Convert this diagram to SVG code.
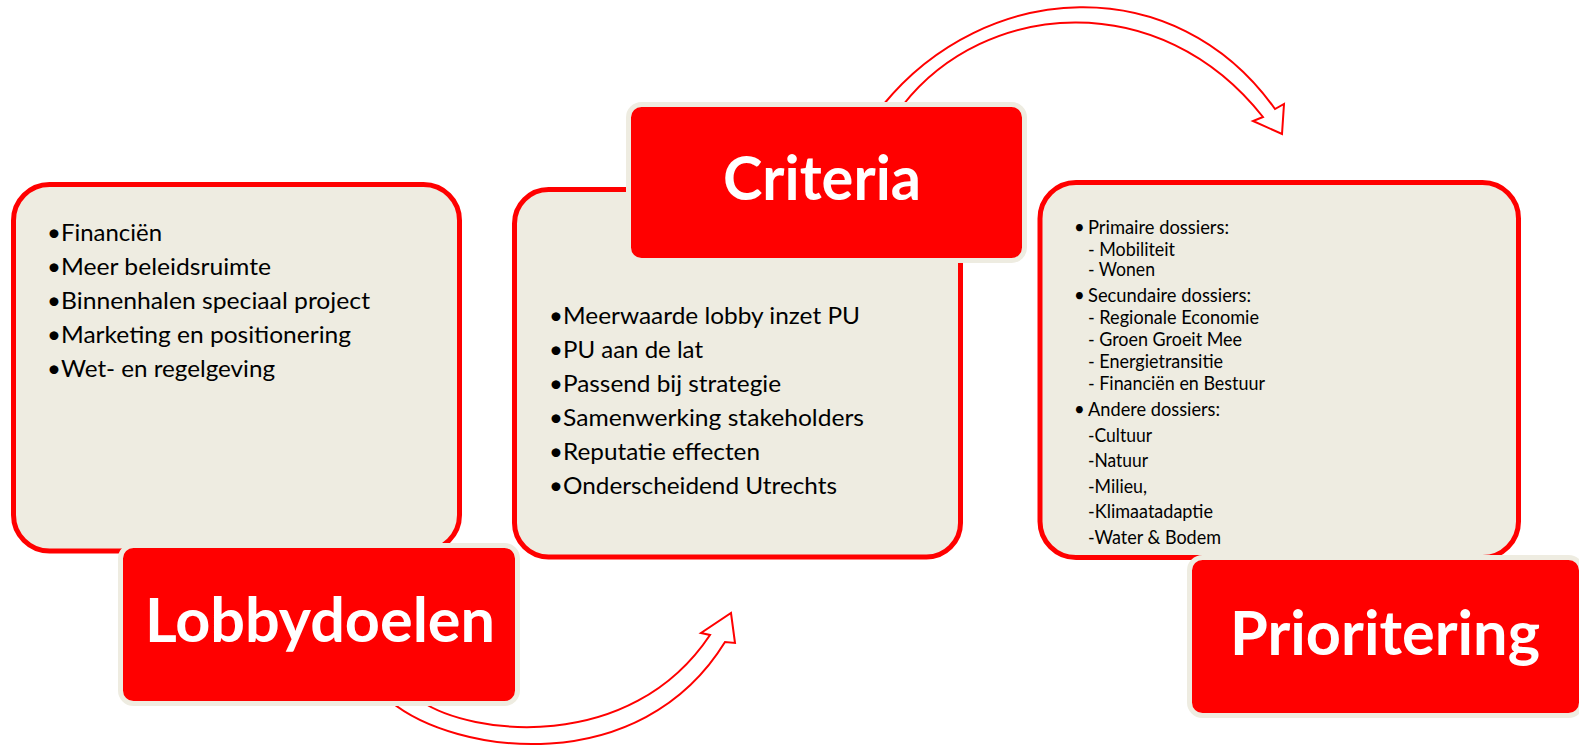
<svg xmlns="http://www.w3.org/2000/svg" width="1579" height="746" viewBox="0 0 1579 746">
<style>
.content{fill:#eeece1;stroke:#ff0000;stroke-width:5}
.title{fill:#ff0000;stroke:#eeece1;stroke-width:5}
.arrow{fill:#ffffff;stroke:#ff0000;stroke-width:2;stroke-linejoin:miter}
.tt{font-family:Lato,"Liberation Sans",sans-serif;font-weight:bold;font-size:61px;fill:#ffffff;text-anchor:middle}
.b{font-family:Lato,"Liberation Sans",sans-serif;font-size:24px;fill:#000000}
.s{font-family:Lato,"Liberation Sans",sans-serif;font-size:18.5px;fill:#000000}
</style>
<rect width="1579" height="746" fill="#ffffff"/>
<g id="connectors">
<path id="arrow-lobby-criteria" class="arrow" d="M390,701 C455,755 640,780 725,642 L735,643 L731,613 L701,633 L710,635 C630,755 470,735 421,701 Z"/>
<path id="arrow-criteria-prioritering" class="arrow" d="M883,105 C985,-20 1175,-32 1275,109 L1284,104 L1282,134 L1253,121 L1263,117 C1160,-14 985,0 903,105 Z"/>
</g>
<g id="node-lobbydoelen">
<rect class="content" x="13.5" y="184.5" width="446" height="366.5" rx="36"/>
<g class="b">
<text x="47" y="241">•</text><text x="61" y="241" textLength="101" lengthAdjust="spacingAndGlyphs">Financiën</text>
<text x="47" y="275">•</text><text x="61" y="275" textLength="210" lengthAdjust="spacingAndGlyphs">Meer beleidsruimte</text>
<text x="47" y="309">•</text><text x="61" y="309" textLength="309" lengthAdjust="spacingAndGlyphs">Binnenhalen speciaal project</text>
<text x="47" y="343">•</text><text x="61" y="343" textLength="290" lengthAdjust="spacingAndGlyphs">Marketing en positionering</text>
<text x="47" y="377">•</text><text x="61" y="377" textLength="214" lengthAdjust="spacingAndGlyphs">Wet- en regelgeving</text>
</g>
<rect class="title" x="120.5" y="545.5" width="397" height="158" rx="13"/>
<text class="tt" x="320" y="642" textLength="350" lengthAdjust="spacingAndGlyphs">Lobbydoelen</text>
</g>
<g id="node-criteria">
<rect class="content" x="514.5" y="189.5" width="446" height="367.5" rx="34"/>
<g class="b">
<text x="549" y="324">•</text><text x="563" y="324" textLength="297" lengthAdjust="spacingAndGlyphs">Meerwaarde lobby inzet PU</text>
<text x="549" y="358">•</text><text x="563" y="358" textLength="140" lengthAdjust="spacingAndGlyphs">PU aan de lat</text>
<text x="549" y="392">•</text><text x="563" y="392" textLength="218" lengthAdjust="spacingAndGlyphs">Passend bij strategie</text>
<text x="549" y="426">•</text><text x="563" y="426" textLength="301" lengthAdjust="spacingAndGlyphs">Samenwerking stakeholders</text>
<text x="549" y="460">•</text><text x="563" y="460" textLength="197" lengthAdjust="spacingAndGlyphs">Reputatie effecten</text>
<text x="549" y="494">•</text><text x="563" y="494" textLength="274" lengthAdjust="spacingAndGlyphs">Onderscheidend Utrechts</text>
</g>
<rect class="title" x="628.5" y="104.5" width="396" height="156" rx="13"/>
<text class="tt" x="822" y="200" textLength="198" lengthAdjust="spacingAndGlyphs">Criteria</text>
</g>
<g id="node-prioritering">
<rect class="content" x="1040" y="182.5" width="478.5" height="375" rx="36"/>
<g class="s">
<text x="1074" y="234">•</text><text x="1088" y="234" textLength="141" lengthAdjust="spacingAndGlyphs">Primaire dossiers:</text>
<text x="1088" y="256" textLength="87" lengthAdjust="spacingAndGlyphs">- Mobiliteit</text>
<text x="1088" y="276" textLength="67" lengthAdjust="spacingAndGlyphs">- Wonen</text>
<text x="1074" y="302">•</text><text x="1088" y="302" textLength="163" lengthAdjust="spacingAndGlyphs">Secundaire dossiers:</text>
<text x="1088" y="324" textLength="171" lengthAdjust="spacingAndGlyphs">- Regionale Economie</text>
<text x="1088" y="346" textLength="154" lengthAdjust="spacingAndGlyphs">- Groen Groeit Mee</text>
<text x="1088" y="368" textLength="135" lengthAdjust="spacingAndGlyphs">- Energietransitie</text>
<text x="1088" y="390" textLength="177" lengthAdjust="spacingAndGlyphs">- Financiën en Bestuur</text>
<text x="1074" y="416">•</text><text x="1088" y="416" textLength="132" lengthAdjust="spacingAndGlyphs">Andere dossiers:</text>
<text x="1088" y="442" textLength="64" lengthAdjust="spacingAndGlyphs">-Cultuur</text>
<text x="1088" y="467" textLength="60" lengthAdjust="spacingAndGlyphs">-Natuur</text>
<text x="1088" y="493" textLength="59" lengthAdjust="spacingAndGlyphs">-Milieu,</text>
<text x="1088" y="518" textLength="125" lengthAdjust="spacingAndGlyphs">-Klimaatadaptie</text>
<text x="1088" y="544" textLength="133" lengthAdjust="spacingAndGlyphs">-Water &amp; Bodem</text>
</g>
<rect class="title" x="1189.5" y="557.5" width="392" height="158" rx="13"/>
<text class="tt" x="1385" y="655" textLength="310" lengthAdjust="spacingAndGlyphs">Prioritering</text>
</g>
</svg>
